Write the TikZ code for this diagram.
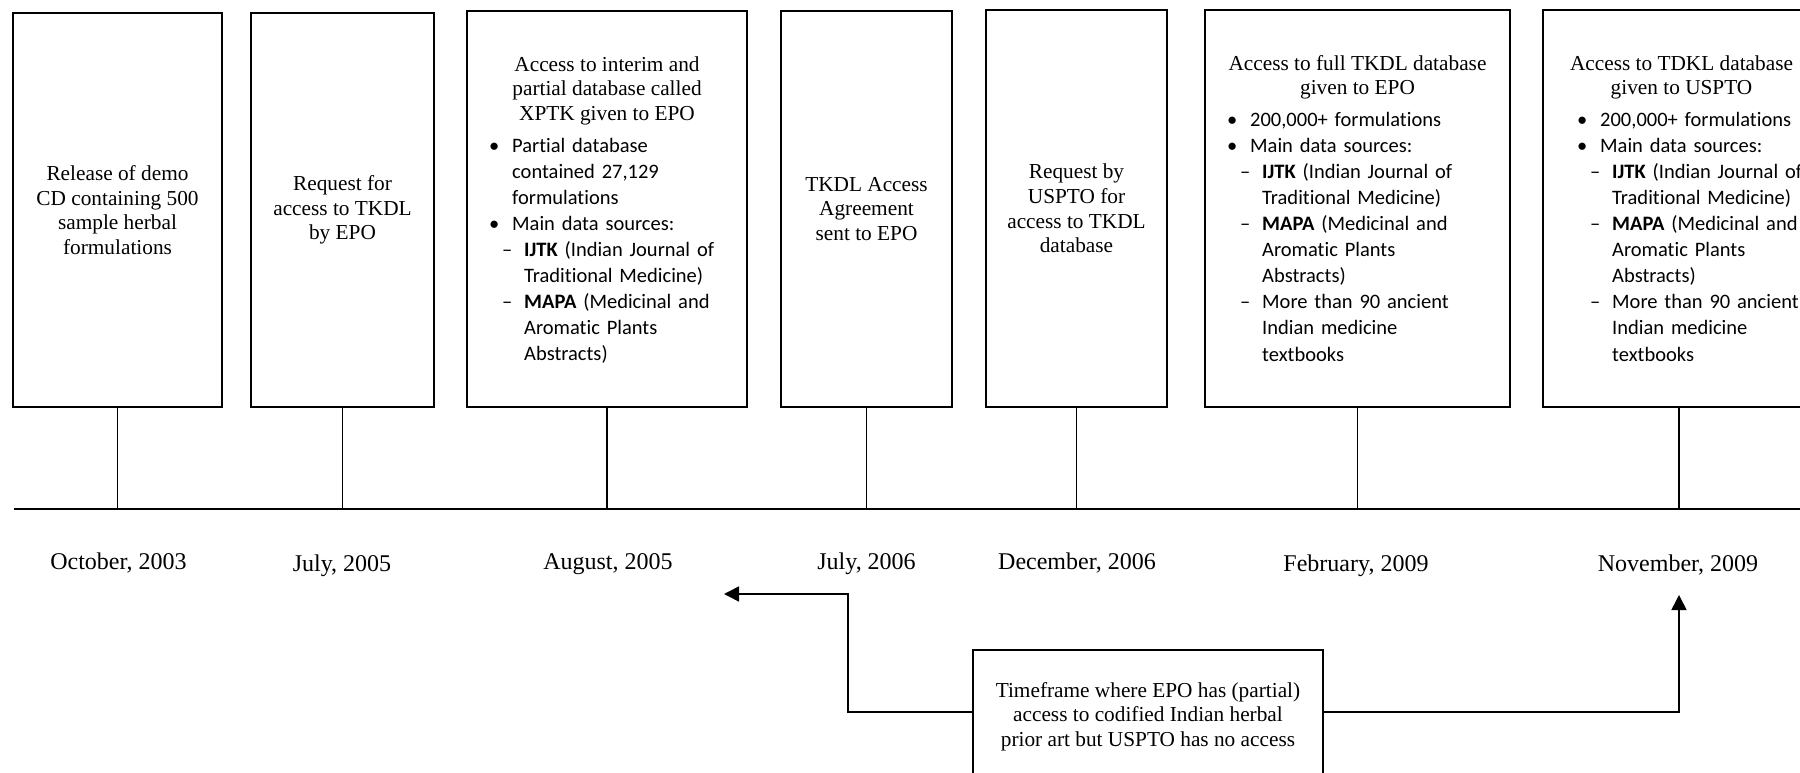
\documentclass[tikz,border=0pt]{standalone}
\usepackage{fontspec}
\setmainfont{Liberation Serif}
\newfontfamily\calfont[Ligatures=CommonOff]{Carlito}
\usetikzlibrary{arrows.meta}
\newcommand\serifsz{\fontsize{21.3pt}{24.7pt}\selectfont}
\newcommand\calsz{\calfont\fontsize{20.5pt}{26.1pt}\selectfont}
\newcommand\datesz{\fontsize{24pt}{28pt}\selectfont}
\newcommand\bul{\makebox[0pt][r]{\makebox[23pt][l]{\textbullet}}}
\newcommand\dsh{\hspace*{12pt}\makebox[0pt][r]{\makebox[22pt][l]{–}}}
\newcommand\ind{\hspace*{12pt}}
\newcommand\fst{\rule{0pt}{20pt}}
\begin{document}
\begin{tikzpicture}[x=1pt,y=-1pt,
  box/.style={draw, line width=1.4pt, inner sep=0pt, font=\serifsz, align=center},
  tick/.style={line width=1.2pt},
  axis/.style={line width=1.9pt},
  arr/.style={line width=1.6pt, -{Triangle[length=15pt,width=15pt]}},
  datelbl/.style={inner sep=0pt, anchor=base, font=\datesz},
  head/.style={inner sep=0pt, anchor=north, align=center, font=\serifsz},
  lst/.style={inner sep=0pt, anchor=north west, align=left, font=\calsz, text width=250pt}]
\useasboundingbox (0,0) rectangle (1800,773);
\clip (0,0) rectangle (1800,773);

% event boxes
\node[box, minimum width=209pt, minimum height=394pt] (b1) at (117.5,210)
  {Release of demo\\CD containing 500\\sample herbal\\formulations};
\node[box, minimum width=183pt, minimum height=394pt] (b2) at (342.5,210)
  {Request for\\access to TKDL\\by EPO};
\node[box, minimum width=280pt, minimum height=396pt] (b3) at (607,209) {};
\node[box, minimum width=171pt, minimum height=396pt] (b4) at (866.5,209)
  {TKDL Access\\Agreement\\sent to EPO};
\node[box, minimum width=181pt, minimum height=397pt] (b5) at (1076.5,208.5)
  {Request by\\USPTO for\\access to TKDL\\database};
\node[box, minimum width=305pt, minimum height=397pt] (b6) at (1357.5,208.5) {};
\node[box, minimum width=272pt, minimum height=397pt] (b7) at (1679,208.5) {};

% box 3 contents
\node[head] (h3) at (607,51) {\fst Access to interim and\\partial database called\\XPTK given to EPO};
\node[lst] (l3) at (512,132) {\fst\bul Partial database\\
contained 27,129\\
formulations\\
\bul Main data sources:\\
\dsh\textbf{IJTK} (Indian Journal of\\
\ind Traditional Medicine)\\
\dsh\textbf{MAPA} (Medicinal and\\
\ind Aromatic Plants\\
\ind Abstracts)};

% box 6 contents
\node[head] (h6) at (1357.5,50) {\fst Access to full TKDL database\\given to EPO};
\node[lst] (l6) at (1250,106) {\fst\bul 200,000+ formulations\\
\bul Main data sources:\\
\dsh\textbf{IJTK} (Indian Journal of\\
\ind Traditional Medicine)\\
\dsh\textbf{MAPA} (Medicinal and\\
\ind Aromatic Plants\\
\ind Abstracts)\\
\dsh More than 90 ancient\\
\ind Indian medicine\\
\ind textbooks};

% box 7 contents
\node[head] (h7) at (1681.5,50) {\fst Access to TDKL database\\given to USPTO};
\node[lst] (l7) at (1600,106) {\fst\bul 200,000+ formulations\\
\bul Main data sources:\\
\dsh\textbf{IJTK} (Indian Journal of\\
\ind Traditional Medicine)\\
\dsh\textbf{MAPA} (Medicinal and\\
\ind Aromatic Plants\\
\ind Abstracts)\\
\dsh More than 90 ancient\\
\ind Indian medicine\\
\ind textbooks};

% timeline
\coordinate (tlL) at (14,509);
\coordinate (tlR) at (1800,509);
\draw[axis] (tlL) -- (tlR);
\foreach \b in {b1,b2,b3,b4,b5,b6,b7}
  \draw[tick] (\b.south) -- (\b.south |- tlL);

% dates
\node[datelbl] (d1) at (118.5,569) {October, 2003};
\node[datelbl] (d2) at (342,571) {July, 2005};
\node[datelbl] (d3) at (608,569) {August, 2005};
\node[datelbl] (d4) at (866.5,569) {July, 2006};
\node[datelbl] (d5) at (1077,569) {December, 2006};
\node[datelbl] (d6) at (1356,571) {February, 2009};
\node[datelbl] (d7) at (1678,571) {November, 2009};

% timeframe box
\node[box, minimum width=350pt, minimum height=140pt] (tf) at (1148,720) {};
\node[head] (tft) at (1148,677) {\fst Timeframe where EPO has (partial)\\access to codified Indian herbal\\prior art but USPTO has no access};

\coordinate (aL) at (724,594);
\coordinate (cL) at (848,712);
\coordinate (aR) at (1679,595);
\coordinate (cR) at (1679,712);
\draw[arr] (cL -| tf.west) -- (cL) |- (aL);
\draw[arr] (cR -| tf.east) -- (cR) -- (aR);
\end{tikzpicture}
\end{document}
